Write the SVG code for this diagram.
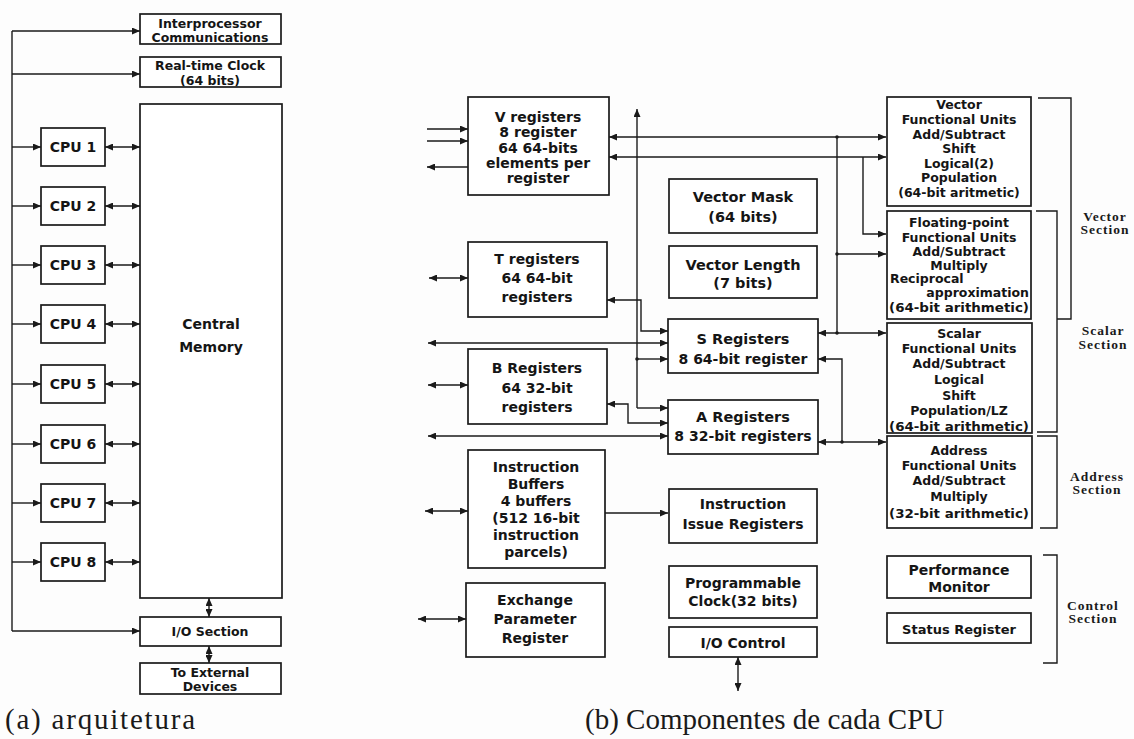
<svg xmlns="http://www.w3.org/2000/svg" width="1134" height="739" viewBox="0 0 1134 739">
<style>
.bx{fill:#fff;stroke:#1a1a1a;stroke-width:1.7}
.t{font-family:"DejaVu Sans","Liberation Sans",sans-serif;font-weight:bold;fill:#151515;text-anchor:middle;dominant-baseline:central}
.s12{font-size:12.5px}
.s13{font-size:13px}
.s14{font-size:14px}
.s15{font-size:14.5px}
.cap{font-family:"Liberation Serif","Times New Roman",serif;font-size:29px;fill:#1a1a1a}
.sec{font-family:"Liberation Serif","Times New Roman",serif;font-weight:bold;font-size:13.5px;letter-spacing:1px;fill:#1a1a1a;text-anchor:middle;dominant-baseline:central}
.c{fill:none;stroke:#1a1a1a;stroke-width:1.4}
.a{marker-end:url(#ah)}
.d{marker-start:url(#ah);marker-end:url(#ah)}
.br{fill:none;stroke:#1a1a1a;stroke-width:1.4}
</style>
<defs>
<marker id="ah" viewBox="0 0 8 7" refX="8" refY="3.5" markerWidth="8" markerHeight="7" markerUnits="userSpaceOnUse" orient="auto-start-reverse">
<path d="M0,0 L8,3.5 L0,7 z" fill="#1a1a1a"/>
</marker>
</defs>
<rect width="1134" height="739" fill="#fdfdfd"/>

<!-- connectors -->
<g id="connectors">
<!-- left panel -->
<path class="c" d="M12,31 V631"/>
<path class="c a" d="M12,31 H140"/>
<path class="c a" d="M12,74 H140"/>
<path class="c a" d="M12,631 H140"/>
<path class="c a" d="M12,147 H41"/><path class="c d" d="M105,147 H140"/>
<path class="c a" d="M12,206 H41"/><path class="c d" d="M105,206 H140"/>
<path class="c a" d="M12,265 H41"/><path class="c d" d="M105,265 H140"/>
<path class="c a" d="M12,324 H41"/><path class="c d" d="M105,324 H140"/>
<path class="c a" d="M12,384 H41"/><path class="c d" d="M105,384 H140"/>
<path class="c a" d="M12,444 H41"/><path class="c d" d="M105,444 H140"/>
<path class="c a" d="M12,503 H41"/><path class="c d" d="M105,503 H140"/>
<path class="c a" d="M12,562 H41"/><path class="c d" d="M105,562 H140"/>
<path class="c d" d="M209,598 V617"/>
<path class="c d" d="M209,646 V663"/>

<!-- right panel -->
<path class="c a" d="M427,129 H468"/>
<path class="c a" d="M427,141 H468"/>
<path class="c a" d="M468,167 H427"/>
<path class="c a" d="M637,408 V109"/>
<path class="c d" d="M609,137 H886"/>
<path class="c d" d="M609,157 H886"/>
<path class="c" d="M837,137 V333"/>
<path class="c a" d="M837,254 H886"/>
<path class="c a" d="M863,157 V234 H886"/>
<path class="c d" d="M818,333 H886"/>
<path class="c a" d="M842,442 V359 H818"/>
<path class="c d" d="M818,442 H886"/>
<path class="c d" d="M607,300 H641 V331 H668"/>
<path class="c d" d="M428,343 H668"/>
<path class="c a" d="M637,359 H668"/>
<path class="c d" d="M607,404 H628 V423 H668"/>
<path class="c d" d="M428,436 H668"/>
<path class="c a" d="M637,408 H668"/>
<path class="c d" d="M429,278 H468"/>
<path class="c d" d="M428,385 H468"/>
<path class="c d" d="M425,511 H468"/>
<path class="c a" d="M605,513 H668"/>
<path class="c d" d="M418,619 H466"/>
<path class="c d" d="M738,657 V691"/>
<circle cx="837" cy="137" r="1.8" fill="#1a1a1a"/>
<circle cx="837" cy="254" r="1.8" fill="#1a1a1a"/>
<circle cx="837" cy="333" r="1.8" fill="#1a1a1a"/>
<circle cx="842" cy="442" r="1.8" fill="#1a1a1a"/>
<circle cx="637" cy="359" r="1.8" fill="#1a1a1a"/>
</g>

<!-- left panel nodes -->
<g id="interproc"><rect class="bx" x="140" y="14" width="141" height="30"/>
<text class="t s12" x="210" y="23">Interprocessor</text><text class="t s12" x="210" y="37">Communications</text></g>
<g id="rtclock"><rect class="bx" x="140" y="57" width="141" height="30"/>
<text class="t s12" x="210" y="65">Real-time Clock</text><text class="t s12" x="210" y="80">(64 bits)</text></g>
<g id="memory"><rect class="bx" x="140" y="104" width="142" height="494"/>
<text class="t s14" x="211" y="324">Central</text><text class="t s14" x="211" y="347">Memory</text></g>
<g id="cpu1"><rect class="bx" x="41" y="128" width="64" height="38"/><text class="t s14" x="73" y="147">CPU 1</text></g>
<g id="cpu2"><rect class="bx" x="41" y="187" width="64" height="38"/><text class="t s14" x="73" y="206">CPU 2</text></g>
<g id="cpu3"><rect class="bx" x="41" y="246" width="64" height="38"/><text class="t s14" x="73" y="265">CPU 3</text></g>
<g id="cpu4"><rect class="bx" x="41" y="305" width="64" height="38"/><text class="t s14" x="73" y="324">CPU 4</text></g>
<g id="cpu5"><rect class="bx" x="41" y="365" width="64" height="38"/><text class="t s14" x="73" y="384">CPU 5</text></g>
<g id="cpu6"><rect class="bx" x="41" y="425" width="64" height="38"/><text class="t s14" x="73" y="444">CPU 6</text></g>
<g id="cpu7"><rect class="bx" x="41" y="484" width="64" height="38"/><text class="t s14" x="73" y="503">CPU 7</text></g>
<g id="cpu8"><rect class="bx" x="41" y="543" width="64" height="38"/><text class="t s14" x="73" y="562">CPU 8</text></g>
<g id="iosection"><rect class="bx" x="140" y="617" width="141" height="29"/><text class="t s12" x="210" y="631">I/O Section</text></g>
<g id="external"><rect class="bx" x="140" y="663" width="141" height="31"/>
<text class="t s12" x="210" y="672">To External</text><text class="t s12" x="210" y="686">Devices</text></g>
<text class="cap" x="5" y="729" textLength="190" lengthAdjust="spacing">(a) arquitetura</text>

<!-- right panel nodes -->
<g id="vreg"><rect class="bx" x="468" y="97" width="141" height="98"/>
<text class="t s14" x="538" y="117">V registers</text><text class="t s14" x="538" y="132">8 register</text>
<text class="t s14" x="538" y="148">64 64-bits</text><text class="t s14" x="538" y="163">elements per</text>
<text class="t s14" x="538" y="178">register</text></g>
<g id="treg"><rect class="bx" x="468" y="242" width="139" height="75"/>
<text class="t s14" x="537" y="259">T registers</text><text class="t s14" x="537" y="278">64 64-bit</text><text class="t s14" x="537" y="297">registers</text></g>
<g id="breg"><rect class="bx" x="468" y="349" width="139" height="75"/>
<text class="t s14" x="537" y="368">B Registers</text><text class="t s14" x="537" y="388">64 32-bit</text><text class="t s14" x="537" y="407">registers</text></g>
<g id="ibuf"><rect class="bx" x="468" y="450" width="137" height="118"/>
<text class="t s14" x="536" y="467">Instruction</text><text class="t s14" x="536" y="484">Buffers</text>
<text class="t s14" x="536" y="501">4 buffers</text><text class="t s14" x="536" y="518">(512 16-bit</text>
<text class="t s14" x="536" y="535">instruction</text><text class="t s14" x="536" y="552">parcels)</text></g>
<g id="exch"><rect class="bx" x="466" y="583" width="139" height="74"/>
<text class="t s14" x="535" y="600">Exchange</text><text class="t s14" x="535" y="619">Parameter</text><text class="t s14" x="535" y="638">Register</text></g>
<g id="vmask"><rect class="bx" x="669" y="179" width="148" height="54"/>
<text class="t s15" x="743" y="197">Vector Mask</text><text class="t s15" x="743" y="217">(64 bits)</text></g>
<g id="vlen"><rect class="bx" x="669" y="246" width="148" height="52"/>
<text class="t s15" x="743" y="265">Vector Length</text><text class="t s15" x="743" y="283">(7 bits)</text></g>
<g id="sreg"><rect class="bx" x="668" y="319" width="150" height="54"/>
<text class="t s15" x="743" y="339">S Registers</text><text class="t s14" x="743" y="359">8 64-bit register</text></g>
<g id="areg"><rect class="bx" x="668" y="400" width="150" height="54"/>
<text class="t s15" x="743" y="417">A Registers</text><text class="t s14" x="743" y="436">8 32-bit registers</text></g>
<g id="issue"><rect class="bx" x="669" y="489" width="148" height="54"/>
<text class="t s14" x="743" y="504">Instruction</text><text class="t s14" x="743" y="524">Issue Registers</text></g>
<g id="pclock"><rect class="bx" x="669" y="566" width="148" height="52"/>
<text class="t s14" x="743" y="583">Programmable</text><text class="t s14" x="743" y="601">Clock(32 bits)</text></g>
<g id="ioctl"><rect class="bx" x="669" y="627" width="148" height="30"/>
<text class="t s14" x="743" y="643">I/O Control</text></g>
<text class="cap" x="585" y="729">(b) Componentes de cada CPU</text>

<g id="vfu"><rect class="bx" x="887" y="97" width="144" height="109"/>
<text class="t s12" x="959" y="104">Vector</text><text class="t s12" x="959" y="119">Functional Units</text>
<text class="t s12" x="959" y="134">Add/Subtract</text><text class="t s12" x="959" y="148">Shift</text>
<text class="t s12" x="959" y="163">Logical(2)</text><text class="t s12" x="959" y="177">Population</text>
<text class="t s12" x="959" y="192">(64-bit aritmetic)</text></g>
<g id="fpfu"><rect class="bx" x="887" y="211" width="144" height="108"/>
<text class="t s12" x="959" y="222">Floating-point</text><text class="t s12" x="959" y="237">Functional Units</text>
<text class="t s12" x="959" y="251">Add/Subtract</text><text class="t s12" x="959" y="265">Multiply</text>
<text class="t s12" x="890" y="278" style="text-anchor:start">Reciprocal</text>
<text class="t s12" x="1029" y="292" style="text-anchor:end">approximation</text>
<text class="t s12" x="959" y="307" textLength="140" lengthAdjust="spacingAndGlyphs">(64-bit arithmetic)</text></g>
<g id="sfu"><rect class="bx" x="887" y="323" width="145" height="110"/>
<text class="t s12" x="959" y="333">Scalar</text><text class="t s12" x="959" y="348">Functional Units</text>
<text class="t s12" x="959" y="363">Add/Subtract</text><text class="t s12" x="959" y="379">Logical</text>
<text class="t s12" x="959" y="395">Shift</text><text class="t s12" x="959" y="410">Population/LZ</text>
<text class="t s12" x="959" y="426" textLength="140" lengthAdjust="spacingAndGlyphs">(64-bit arithmetic)</text></g>
<g id="afu"><rect class="bx" x="887" y="436" width="145" height="92"/>
<text class="t s12" x="959" y="450">Address</text><text class="t s12" x="959" y="465">Functional Units</text>
<text class="t s12" x="959" y="480">Add/Subtract</text><text class="t s12" x="959" y="496">Multiply</text>
<text class="t s12" x="959" y="513" textLength="140" lengthAdjust="spacingAndGlyphs">(32-bit arithmetic)</text></g>
<g id="perf"><rect class="bx" x="887" y="556" width="144" height="42"/>
<text class="t s14" x="959" y="570">Performance</text><text class="t s14" x="959" y="587">Monitor</text></g>
<g id="status"><rect class="bx" x="887" y="613" width="144" height="30"/>
<text class="t s13" x="959" y="629">Status Register</text></g>

<!-- section brackets -->
<g id="vsec"><path class="br" d="M1038,98 H1071 V319 H1057"/>
<text class="sec" x="1105" y="216">Vector</text><text class="sec" x="1105" y="229">Section</text></g>
<g id="ssec"><path class="br" d="M1036,211 H1057 V432 H1037"/>
<text class="sec" x="1103" y="330">Scalar</text><text class="sec" x="1103" y="344">Section</text></g>
<g id="asec"><path class="br" d="M1037,436 H1057 V528 H1040"/>
<text class="sec" x="1097" y="476">Address</text><text class="sec" x="1097" y="489">Section</text></g>
<g id="csec"><path class="br" d="M1043,555 H1057 V663 H1043"/>
<text class="sec" x="1093" y="605">Control</text><text class="sec" x="1093" y="618">Section</text></g>
</svg>
